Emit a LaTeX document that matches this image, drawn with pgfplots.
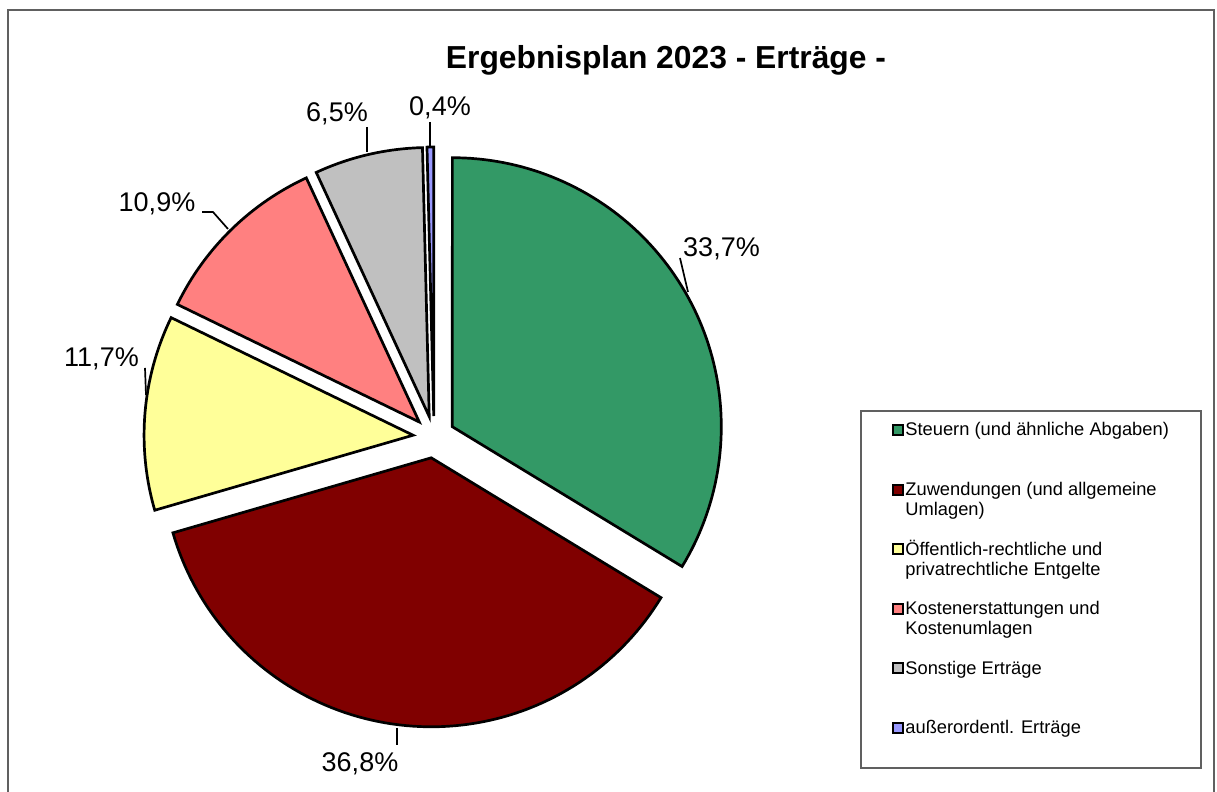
\documentclass[border=0pt]{standalone}
\usepackage{pgfplots}
\pgfplotsset{compat=1.18}
\usepackage{fontspec}
\setmainfont{Liberation Sans}
\definecolor{cGreen}{RGB}{51,153,102}
\definecolor{cMaroon}{RGB}{128,0,0}
\definecolor{cYellow}{RGB}{255,255,153}
\definecolor{cPink}{RGB}{255,128,128}
\definecolor{cGray}{RGB}{192,192,192}
\definecolor{cBlue}{RGB}{153,153,255}
\definecolor{frameGray}{RGB}{96,96,96}
% pie geometry (pixel units of the axis)
\def\cx{434}\def\cy{355}\def\rr{269}\def\dd{21}
% #1 = cumulative start (%), #2 = share (%), #3 = colour
\newcommand{\slice}[3]{%
  \pgfmathsetmacro\aS{90-3.6*#1}%
  \pgfmathsetmacro\aE{90-3.6*(#1+#2)}%
  \pgfmathsetmacro\aM{(\aS+\aE)/2}%
  \pgfmathsetmacro\ox{\cx+\dd*cos(\aM)}%
  \pgfmathsetmacro\oy{\cy+\dd*sin(\aM)}%
  \edef\temp{\noexpand\addplot[fill=#3, draw=black, line width=1.35pt, line join=miter, domain=\aE:\aS, samples=90]
    ({\ox+\rr*cos(x)},{\oy+\rr*sin(x)}) -- (axis cs:\ox,\oy) -- cycle;}%
  \temp}
\newcommand{\lab}{\fontsize{13.5}{16}\selectfont}
\newcommand{\leg}{\fontsize{9.15}{10}\selectfont}
\newcommand{\legkey}[2]{\node[draw=black, line width=1pt, fill=#1, minimum size=5pt, inner sep=0, anchor=south west] at (axis cs:892,#2) {};}
\begin{document}
\begin{tikzpicture}
\useasboundingbox (0,0) rectangle (608.5pt,396pt);
\begin{axis}[at={(0,0)}, anchor=south west, width=608.5pt, height=396pt, scale only axis,
  xmin=0, xmax=1217, ymin=0, ymax=792, hide axis, clip=false]
% outer frame
\draw[frameGray, line width=0.8pt] (axis cs:8,-20) -- (axis cs:8,782) -- (axis cs:1214,782) -- (axis cs:1214,-20);
% slices: start, share, colour
\slice{0}{33.7}{cGreen}
\slice{33.7}{36.8}{cMaroon}
\slice{70.5}{11.7}{cYellow}
\slice{82.2}{10.9}{cPink}
\slice{93.1}{6.5}{cGray}
\slice{99.6}{0.4}{cBlue}
% title
\node[anchor=base, font=\fontsize{15.9}{18}\selectfont\bfseries] at (axis cs:666,723) {Ergebnisplan 2023 - Erträge -};
% data labels
\node[anchor=base, font=\lab, inner sep=0] at (axis cs:721.5,535) {33,7\%};
\node[anchor=base, font=\lab, inner sep=0] at (axis cs:360,20) {36,8\%};
\node[anchor=base, font=\lab, inner sep=0] at (axis cs:101.5,425) {11,7\%};
\node[anchor=base, font=\lab, inner sep=0] at (axis cs:157,580) {10,9\%};
\node[anchor=base, font=\lab, inner sep=0] at (axis cs:337,670) {6,5\%};
\node[anchor=base, font=\lab, inner sep=0] at (axis cs:440,676) {0,4\%};
% leader lines
\draw[line width=0.85pt] (axis cs:680,534) -- (axis cs:688,500);
\draw[line width=0.85pt] (axis cs:397,64) -- (axis cs:397,47);
\draw[line width=0.85pt] (axis cs:145,424) -- (axis cs:146,397);
\draw[line width=0.85pt] (axis cs:202,580) -- (axis cs:213,580) -- (axis cs:228,563);
\draw[line width=0.85pt] (axis cs:367,665) -- (axis cs:367,640);
\draw[line width=0.85pt] (axis cs:430,670) -- (axis cs:430,645);
% legend
\draw[frameGray, line width=0.6pt] (axis cs:861,381) rectangle (axis cs:1201,24);
\legkey{cGreen}{356}
\legkey{cMaroon}{296.4}
\legkey{cYellow}{236.8}
\legkey{cPink}{177.2}
\legkey{cGray}{117.6}
\legkey{cBlue}{58}
\node[anchor=base west, font=\leg, inner sep=0] at (axis cs:905,356) {Steuern (und ähnliche Abgaben)};
\node[anchor=base west, font=\leg, inner sep=0] at (axis cs:905,296.4) {Zuwendungen (und allgemeine};
\node[anchor=base west, font=\leg, inner sep=0] at (axis cs:905,276.4) {Umlagen)};
\node[anchor=base west, font=\leg, inner sep=0] at (axis cs:905,236.8) {Öffentlich-rechtliche und};
\node[anchor=base west, font=\leg, inner sep=0] at (axis cs:905,216.8) {privatrechtliche Entgelte};
\node[anchor=base west, font=\leg, inner sep=0] at (axis cs:905,177.2) {Kostenerstattungen und};
\node[anchor=base west, font=\leg, inner sep=0] at (axis cs:905,157.2) {Kostenumlagen};
\node[anchor=base west, font=\leg, inner sep=0] at (axis cs:905,117.6) {Sonstige Erträge};
\node[anchor=base west, font=\leg, inner sep=0] at (axis cs:905,58) {außerordentl. Erträge};
\end{axis}
\end{tikzpicture}
\end{document}
